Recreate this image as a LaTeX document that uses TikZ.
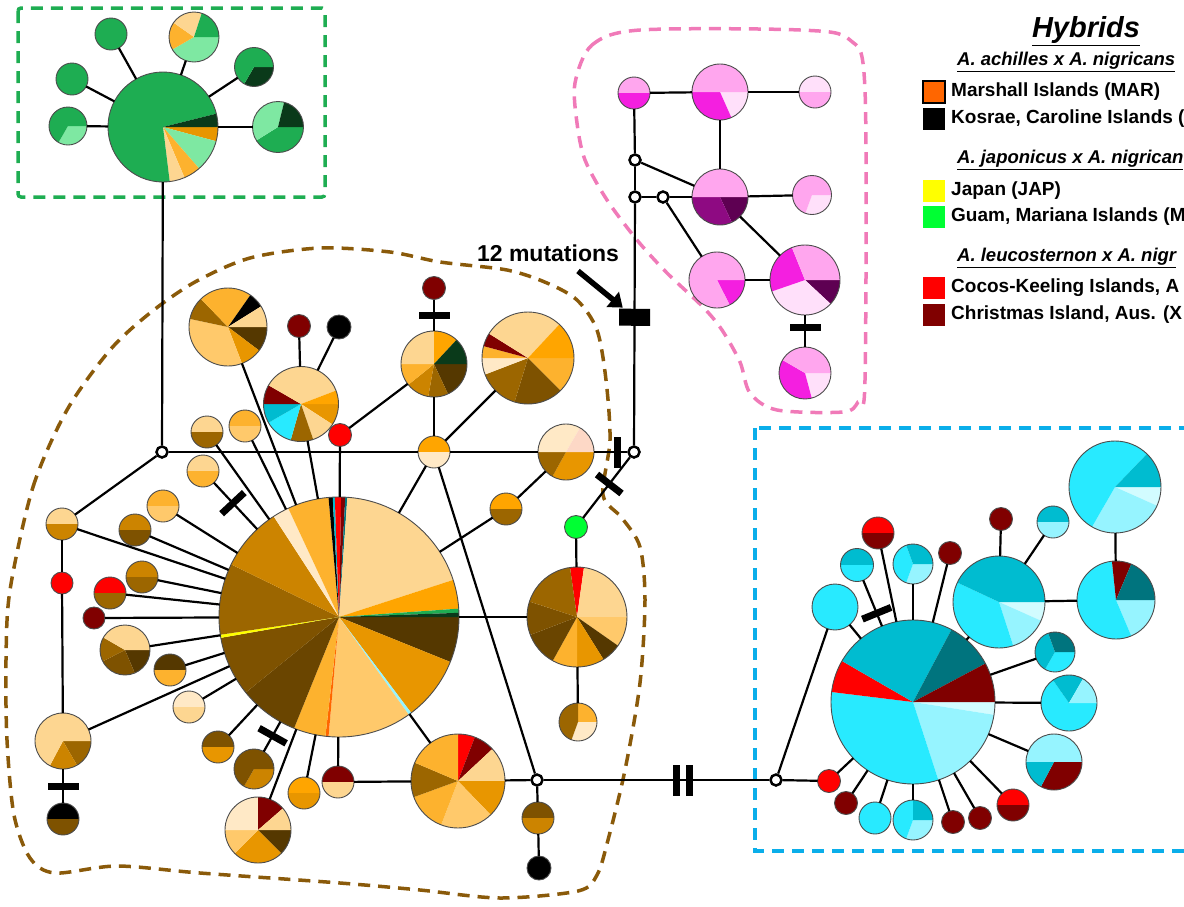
\documentclass[tikz,border=0pt]{standalone}
\usepackage{fontspec}
\setmainfont{Liberation Sans}
\usetikzlibrary{arrows.meta}

\definecolor{cream}{HTML}{FFE9C6}
\definecolor{light}{HTML}{FDD691}
\definecolor{peach}{HTML}{FFC96B}
\definecolor{golden}{HTML}{FDB22E}
\definecolor{orng}{HTML}{FFA500}
\definecolor{dorng}{HTML}{E89600}
\definecolor{ochre}{HTML}{CC8400}
\definecolor{brn}{HTML}{9C6600}
\definecolor{dbrn}{HTML}{7E5200}
\definecolor{tbrn}{HTML}{6A4500}
\definecolor{xbrn}{HTML}{553800}
\definecolor{blush}{HTML}{FDD8C6}
\definecolor{cyA}{HTML}{28EAFF}
\definecolor{cyB}{HTML}{00BCD0}
\definecolor{cyC}{HTML}{00747E}
\definecolor{cyD}{HTML}{96F4FF}
\definecolor{cyE}{HTML}{D2FCFF}
\definecolor{grA}{HTML}{1EAD52}
\definecolor{grB}{HTML}{7EE8A2}
\definecolor{grC}{HTML}{0A3A1A}
\definecolor{pkA}{HTML}{FFA6EE}
\definecolor{pkB}{HTML}{F41FE0}
\definecolor{pkC}{HTML}{FFE0FA}
\definecolor{pkD}{HTML}{8E0A82}
\definecolor{pkE}{HTML}{5E0052}
\definecolor{mar}{HTML}{FF6600}
\definecolor{jap}{HTML}{FFFF00}
\definecolor{guam}{HTML}{00FF33}
\definecolor{cocos}{HTML}{FF0000}
\definecolor{xmas}{HTML}{800000}
\definecolor{gframe}{HTML}{1EAD52}
\definecolor{pframe}{HTML}{F07AB8}
\definecolor{cframe}{HTML}{0AAEEA}
\definecolor{bframe}{HTML}{8A5A0A}

\newcommand{\hap}[4]{%
  \node[HapStyle, minimum size=#3*2] (#1) at (#2) {};
  \foreach \sa/\sb/\sc in {#4}
    \fill[\sc] (#1.center) -- ++(\sa:#3) arc[start angle=\sa, end angle=\sb, radius=#3] -- cycle;
  \draw[HapLine] (#1.center) circle[radius=#3];
}

\begin{document}
\begin{tikzpicture}[x=1pt, y=-1pt]
\tikzstyle{HapStyle}=[shape=circle, inner sep=0pt, outer sep=0pt]
\tikzstyle{HapLine}=[draw=black!70, line width=0.9pt]
\tikzstyle{MedStyle}=[shape=circle, draw, line width=2.5pt, fill=white,
                      inner sep=0pt, minimum size=11pt]
\tikzstyle{link}=[line width=2.2pt]
\tikzstyle{tick}=[fill=black, inner sep=0pt, minimum width=7pt,
                  minimum height=31pt, sloped]
\tikzstyle{bigbar}=[fill=black, inner sep=0pt, minimum width=17pt,
                    minimum height=31pt, sloped]
\tikzstyle{frame}=[line width=3.5pt, dash pattern=on 12pt off 8pt]
\tikzstyle{legsq}=[inner sep=0pt, minimum size=22pt]
\tikzstyle{legtext}=[anchor=west, inner sep=0pt,
                     font=\fontsize{19}{21}\selectfont\bfseries]
\tikzstyle{leghead}=[anchor=west, inner sep=0pt,
                     font=\fontsize{18.5}{21}\selectfont\bfseries\itshape]
\useasboundingbox (0,0) rectangle (1184,906);
\clip (0,0) rectangle (1184,906);

\draw[frame, gframe, rounded corners=3pt] (18,8) rectangle (325,197);
\draw[frame, cframe] (755,428) rectangle (1200,851);
\draw[frame, pframe] plot[smooth cycle] coordinates {(575,83) (592,45) (640,30)
  (800,30) (850,40) (865,90) (865,380) (858,402) (843,412) (777,410) (750,393)
  (740,362) (722,330) (703,307) (667,273) (637,240) (607,200) (585,160) (577,123)};
\draw[frame, bframe] plot[smooth cycle] coordinates {(10,590) (33,487) (67,410)
  (110,350) (150,313) (195,282) (250,258) (320,248) (390,252) (440,262) (507,270)
  (547,283) (577,300) (597,330) (606,380) (610,440) (603,495) (622,518) (640,547)
  (645,600) (640,683) (625,770) (608,840) (597,875) (578,891) (500,898) (420,890)
  (340,883) (200,873) (117,866) (55,873) (30,858) (14,815) (7,740) (6,660)};

\hap{g0}{163,127}{55}{0/15/dorng, 15/49/grB, 49/67/golden, 67/83/light, 83/346/grA, 346/360/grC}
\hap{g1}{111,34}{16}{0/360/grA}
\hap{g2}{72,79}{16}{0/360/grA}
\hap{g3}{68,126}{19}{0/120/grB, 120/360/grA}
\hap{g4}{194,37}{25}{0/150/grB, 150/215/golden, 215/288/light, 288/360/grA}
\hap{g5}{254,67}{19.5}{0/120/grC, 120/360/grA}
\hap{g6}{278,127}{25.5}{0/148/grA, 148/284/grB, 284/360/grC}

\hap{p0}{634,93}{16}{180/360/pkA, 0/180/pkB}
\hap{p1}{720,92}{28}{0/66/pkC, 66/180/pkB, 180/360/pkA}
\hap{p2}{815,92}{16}{180/360/pkC, 0/180/pkA}
\hap{p3}{720,197}{28}{0/65/pkE, 65/180/pkD, 180/360/pkA}
\hap{p4}{812,195}{19.5}{0/110/pkC, 110/360/pkA}
\hap{p5}{717,280}{28}{0/63/pkB, 63/360/pkA}
\hap{p6}{805,280}{35}{0/43/pkE, 43/161/pkC, 161/248/pkB, 248/360/pkA}
\hap{p7}{805,373}{26}{0/75/pkC, 75/210/pkB, 210/360/pkA}

\hap{b0}{339,617}{120}{0/22/xbrn, 22/53/dorng, 53/54.5/cyD, 54.5/95/peach, 95/96.5/mar,
  96.5/112/golden, 112/141/tbrn, 141/170/dbrn, 170/171.5/jap, 171.5/206/brn, 206/237/ochre,
  237/245/cream, 245/265/golden, 265/267/black, 267/268/cyB, 268/271/cocos, 271/273/xmas,
  273/274/cyC, 274/342/light, 342/356/orng, 356/358/grA, 358/360/grC}
\hap{b1}{228,327}{39}{0/37/xbrn, 37/69/dorng, 69/192/peach, 192/226/brn, 226/305/golden,
  305/328/black, 328/360/light}
\hap{b2}{301,404}{37.5}{0/33/dorng, 33/71/light, 71/106/brn, 106/150/cyA, 150/180/cyB,
  180/210/xmas, 210/339/light, 339/360/orng}
\hap{b3}{299,326}{11.5}{0/360/xmas}
\hap{b4}{339,327}{12}{0/360/black}
\hap{b5}{340,435}{11.5}{0/360/cocos}
\hap{b6}{434,364}{33}{0/65/xbrn, 65/100/brn, 100/141/ochre, 141/180/golden, 180/270/light,
  270/313/orng, 313/360/grC}
\hap{b7}{434,288}{11.5}{0/360/xmas}
\hap{b8}{528,358}{46}{0/45/golden, 45/107/dbrn, 107/159/brn, 159/180/cream, 180/195/golden,
  195/212/xmas, 212/313/light, 313/360/orng}
\hap{b9}{434,452}{16}{180/360/orng, 0/180/cream}
\hap{b10}{566,452}{28}{0/119/dorng, 119/180/brn, 180/300/cream, 300/360/blush}
\hap{b11}{576,527}{11.5}{0/360/guam}
\hap{b12}{577,617}{50}{262/278/cocos, 278/360/light, 0/35/peach, 35/58/xbrn, 58/90/dorng,
  90/119/golden, 119/159/tbrn, 159/198/dbrn, 198/262/brn}
\hap{b13}{578,722}{19}{270/360/golden, 0/110/cream, 110/270/brn}
\hap{b14}{506,509}{16}{180/360/orng, 0/180/brn}
\hap{b15}{62,524}{16}{180/360/light, 0/180/ochre}
\hap{b16}{62,583}{11}{0/360/cocos}
\hap{b17}{63,741}{28}{0/60/brn, 60/118/ochre, 118/360/light}
\hap{b18}{63,819}{16}{180/360/black, 0/180/dbrn}
\hap{b19}{207,432}{16}{180/360/light, 0/180/brn}
\hap{b20}{245,426}{16}{180/360/golden, 0/180/peach}
\hap{b21}{203,471}{16}{180/360/light, 0/180/golden}
\hap{b22}{163,506}{16}{180/360/golden, 0/180/peach}
\hap{b23}{135,530}{16}{180/360/ochre, 0/180/dbrn}
\hap{b24}{142,577}{16}{180/360/ochre, 0/180/brn}
\hap{b25}{110,593}{16}{180/360/cocos, 0/180/brn}
\hap{b26}{94,618}{11}{0/360/xmas}
\hap{b27}{125,650}{25}{0/67/xbrn, 67/153/dbrn, 153/210/brn, 210/360/light}
\hap{b28}{170,670}{16}{180/360/xbrn, 0/180/golden}
\hap{b29}{189,707}{16}{180/360/cream, 0/180/light}
\hap{b30}{218,747}{16}{180/360/dbrn, 0/180/dorng}
\hap{b31}{254,769}{20}{0/120/ochre, 120/360/dbrn}
\hap{b32}{258,830}{33}{0/45/xbrn, 45/135/dorng, 135/180/peach, 180/270/cream, 270/319/xmas,
  319/360/light}
\hap{b33}{304,793}{16}{180/360/orng, 0/180/dorng}
\hap{b34}{338,782}{16}{180/360/xmas, 0/180/light}
\hap{b35}{458,781}{47}{270/291/cocos, 291/317/xmas, 317/360/light, 0/46/dorng, 46/111/peach,
  111/160/golden, 160/203/brn, 203/270/golden}
\hap{b36}{538,818}{16}{180/360/dbrn, 0/180/ochre}
\hap{b37}{539,868}{12}{0/360/black}

\hap{c0}{913,702}{82}{0/9/cyE, 9/72/cyD, 72/187/cyA, 187/210/cocos, 210/298/cyB, 298/332/cyC,
  332/360/xmas}
\hap{c1}{835,607}{23}{0/360/cyA}
\hap{c2}{857,565}{16.5}{180/360/cyB, 0/180/cyA}
\hap{c3}{878,533}{16}{180/360/cocos, 0/180/xmas}
\hap{c4}{913,564}{20}{0/110/cyD, 110/250/cyA, 250/360/cyB}
\hap{c5}{950,553}{11.5}{0/360/xmas}
\hap{c6}{999,602}{46}{0/24/cyE, 24/72/cyD, 72/205/cyA, 205/360/cyB}
\hap{c7}{1001,519}{11.5}{0/360/xmas}
\hap{c8}{1053,522}{16}{180/360/cyB, 0/180/cyD}
\hap{c9}{1116,600}{39}{0/67/cyD, 67/264/cyA, 264/293/xmas, 293/360/cyC}
\hap{c10}{1115,487}{46}{0/24/cyE, 24/120/cyD, 120/314/cyA, 314/360/cyB}
\hap{c11}{1055,652}{20}{0/120/cyA, 120/250/cyB, 250/360/cyC}
\hap{c12}{1069,703}{28}{0/235/cyA, 235/300/cyB, 300/360/cyD}
\hap{c13}{1054,762}{28}{180/360/cyD, 0/118/xmas, 118/180/cyB}
\hap{c14}{1013,805}{16}{180/360/cocos, 0/180/xmas}
\hap{c15}{980,818}{11.5}{0/360/xmas}
\hap{c16}{953,822}{11.5}{0/360/xmas}
\hap{c17}{913,820}{20}{0/110/cyD, 110/270/cyA, 270/360/cyB}
\hap{c18}{875,818}{16}{0/360/cyA}
\hap{c19}{846,803}{11.5}{0/360/xmas}
\hap{c20}{829,781}{11.5}{0/360/cocos}

\node[MedStyle] (m0) at (162,452) {};
\node[MedStyle] (m1) at (634,452) {};
\node[MedStyle] (m2) at (537,780) {};
\node[MedStyle] (m3) at (776,780) {};
\node[MedStyle] (m4) at (635,160) {};
\node[MedStyle] (m5) at (635,197) {};
\node[MedStyle] (m6) at (663,197) {};

\draw[link] (g0) -- (g1);
\draw[link] (g0) -- (g2);
\draw[link] (g0) -- (g3);
\draw[link] (g0) -- (g4);
\draw[link] (g0) -- (g5);
\draw[link] (g0) -- (g6);
\draw[link] (g0) -- (m0);
\draw[link] (m0) -- (b9);
\draw[link] (m0) -- (b15);
\draw[link] (b15) -- (b16);
\draw[link] (b16) -- (b17);
\draw[link] (b17) -- node[tick, pos=.5] {} (b18);
\draw[link] (b15) -- (b0);
\draw[link] (b17) -- (b0);
\draw[link] (b1) -- (b0);
\draw[link] (b2) -- (b0);
\draw[link] (b2) -- (b3);
\draw[link] (b2) -- (b4);
\draw[link] (b5) -- (b0);
\draw[link] (b5) -- (b6);
\draw[link] (b7) -- node[tick, pos=.5] {} (b6);
\draw[link] (b6) -- (b9);
\draw[link] (b8) -- (b9);
\draw[link] (b9) -- (b0);
\draw[link] (b9) -- (b10);
\draw[link] (b9) -- (m2);
\draw[link] (b14) -- (b0);
\draw[link] (b14) -- (b10);
\draw[link] (b10) -- node[tick, pos=.7] {} (m1);
\draw[link] (m1) -- node[tick, pos=.44] {} (b11);
\draw[link] (b11) -- (b12);
\draw[link] (b12) -- (b13);
\draw[link] (b0) -- (b12);
\draw[link] (b19) -- (b0);
\draw[link] (b20) -- (b0);
\draw[link] (b21) -- node[tick, pos=.44] {} (b0);
\draw[link] (b22) -- (b0);
\draw[link] (b23) -- (b0);
\draw[link] (b24) -- (b0);
\draw[link] (b25) -- (b0);
\draw[link] (b26) -- (b0);
\draw[link] (b27) -- (b0);
\draw[link] (b28) -- (b0);
\draw[link] (b29) -- (b0);
\draw[link] (b30) -- (b0);
\draw[link] (b31) -- node[tick, pos=.53] {} (b0);
\draw[link] (b32) -- (b0);
\draw[link] (b33) -- (b0);
\draw[link] (b34) -- (b0);
\draw[link] (b35) -- (b0);
\draw[link] (b34) -- (b35);
\draw[link] (b35) -- (m2);
\draw[link] (m2) -- (b36);
\draw[link] (b36) -- (b37);
\draw[link] (m2) -- node[tick, pos=.59] {} node[tick, pos=.645] {} (m3);
\draw[link] (m5) -- node[bigbar, pos=.47] (mut12) {} (m1);
\draw[link] (m5) -- (m4);
\draw[link] (m4) -- (p0);
\draw[link] (p0) -- (p1);
\draw[link] (p1) -- (p2);
\draw[link] (p1) -- (p3);
\draw[link] (m4) -- (p3);
\draw[link] (m5) -- (m6);
\draw[link] (m6) -- (p3);
\draw[link] (m6) -- (p5);
\draw[link] (p3) -- (p4);
\draw[link] (p3) -- (p6);
\draw[link] (p5) -- (p6);
\draw[link] (p6) -- node[tick, pos=.4] {} (p7);
\draw[link] (m3) -- (c1);
\draw[link] (m3) -- (c20);
\draw[link] (c20) -- (c0);
\draw[link] (c1) -- (c0);
\draw[link] (c2) -- node[tick, pos=.72] {} (c0);
\draw[link] (c3) -- (c0);
\draw[link] (c4) -- (c0);
\draw[link] (c5) -- (c0);
\draw[link] (c6) -- (c0);
\draw[link] (c6) -- (c7);
\draw[link] (c6) -- (c8);
\draw[link] (c6) -- (c9);
\draw[link] (c9) -- (c10);
\draw[link] (c11) -- (c0);
\draw[link] (c12) -- (c0);
\draw[link] (c13) -- (c0);
\draw[link] (c14) -- (c0);
\draw[link] (c15) -- (c0);
\draw[link] (c16) -- (c0);
\draw[link] (c17) -- (c0);
\draw[link] (c18) -- (c0);
\draw[link] (c19) -- (c0);

\node[font=\fontsize{23}{26}\selectfont\bfseries] (lab12) at (548,253) {12 mutations};
\coordinate (arrtail) at (578,271);
\draw[line width=5.5pt, -{Triangle[length=13pt, width=19pt]}] (arrtail) -- (mut12);

\node[font=\fontsize{29}{32}\selectfont\bfseries\itshape] (legtitle) at (1086,31) {\underline{Hybrids}};
\node[leghead] (head1) at (957,62) {\underline{A. achilles x A. nigricans}};
\node[legsq, fill=mar, draw=black, line width=2.5pt] (sq1) at (934,92) {};
\node[legtext] (txt1) at (951,92) {Marshall Islands (MAR)};
\node[legsq, fill=black] (sq2) at (934,119) {};
\node[legtext] (txt2) at (951,119) {Kosrae, Caroline Islands (};
\node[leghead] (head2) at (957,160) {\underline{A. japonicus x A. nigrican}};
\node[legsq, fill=jap] (sq3) at (934,191) {};
\node[legtext] (txt3) at (951,191) {Japan (JAP)};
\node[legsq, fill=guam] (sq4) at (934,217) {};
\node[legtext] (txt4) at (951,217) {Guam, Mariana Islands (M};
\node[leghead] (head3) at (957,258) {\underline{A. leucosternon x A. nigr}};
\node[legsq, fill=cocos] (sq5) at (934,288) {};
\node[legtext] (txt5) at (951,288) {Cocos-Keeling Islands, A};
\node[legsq, fill=xmas] (sq6) at (934,315) {};
\node[legtext] (txt6) at (951,315) {Christmas Island, Aus. (X};
\end{tikzpicture}
\end{document}
